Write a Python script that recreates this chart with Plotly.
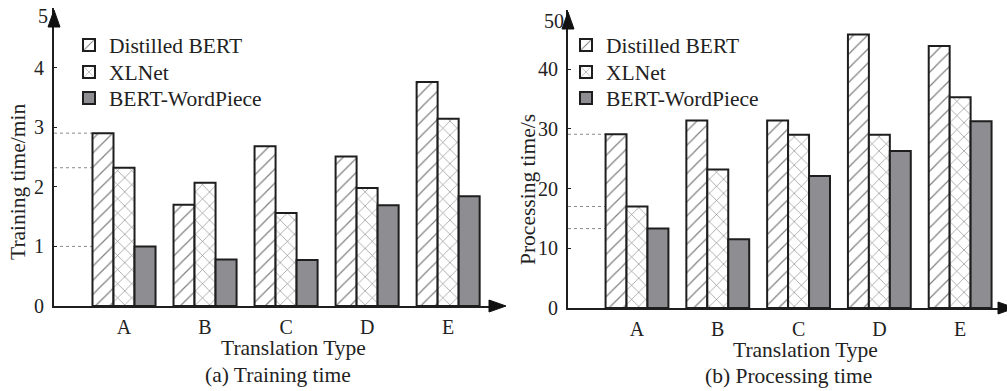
import plotly.graph_objects as go
from plotly.subplots import make_subplots

categories = ["A", "B", "C", "D", "E"]
series_names = ["Distilled BERT", "XLNet", "BERT-WordPiece"]

train_distilled = [2.9, 1.7, 2.68, 2.51, 3.76]
train_xlnet = [2.32, 2.07, 1.56, 1.98, 3.14]
train_wordpiece = [1.0, 0.78, 0.77, 1.69, 1.84]

proc_distilled = [29.1, 31.4, 31.4, 45.8, 43.9]
proc_xlnet = [17.0, 23.2, 29.0, 29.0, 35.3]
proc_wordpiece = [13.3, 11.5, 22.1, 26.3, 31.3]

train_ticks = [0, 1, 2, 3, 4, 5]
proc_ticks = [0, 10, 20, 30, 40, 50]

W, H = 1007, 391
FONT = "Liberation Serif, Times New Roman, serif"
EDGE = "#1e1e1e"
GRAY = "#8e8e92"
HATCH = "#808080"
TXT = "#222"


def px(x):
    return x / W


def py(y):
    return 1 - y / H


styles = [
    dict(pattern=dict(shape="/", fgcolor=HATCH, bgcolor="white", size=10, solidity=0.12, fillmode="replace")),
    dict(pattern=dict(shape="x", fgcolor=HATCH, bgcolor="white", size=10, solidity=0.12, fillmode="replace")),
    dict(color=GRAY),
]

fig = make_subplots(rows=1, cols=2)
x_idx = list(range(len(categories)))
bargap = 0.222

# one legend per entry so rows can sit exactly where the reference has them
legend_rows = [45, 72, 98]
legend_ids = [["legend", "legend2", "legend3"], ["legend4", "legend5", "legend6"]]
legend_x = [69, 566]

for c, (col, data) in enumerate([(1, [train_distilled, train_xlnet, train_wordpiece]),
                                  (2, [proc_distilled, proc_xlnet, proc_wordpiece])]):
    for i, (name, vals) in enumerate(zip(series_names, data)):
        st = styles[i]
        marker = dict(line=dict(color=EDGE, width=2))
        if "pattern" in st:
            marker["color"] = "white"
            marker["pattern"] = st["pattern"]
        else:
            marker["color"] = st["color"]
        fig.add_trace(go.Bar(x=x_idx, y=vals, name=name, marker=marker,
                             legend=legend_ids[c][i], showlegend=True), row=1, col=col)

fig.update_layout(barmode="group", bargap=bargap, bargroupgap=0)

tickfont = dict(family=FONT, size=20, color=TXT)
xcommon = dict(tickmode="array", tickvals=x_idx, ticktext=categories,
               showline=True, linecolor=EDGE, linewidth=2, ticks="",
               showgrid=False, zeroline=False, ticklabelstandoff=2,
               automargin=False, tickfont=tickfont)
ycommon = dict(showline=True, linecolor=EDGE, linewidth=2, ticks="inside", ticklen=3,
               tickcolor=EDGE, showgrid=False, zeroline=False, ticklabelstandoff=4,
               automargin=False, tickfont=tickfont)

fig.update_layout(
    xaxis=dict(domain=[px(54), px(500)], range=[-0.864, 4.64], **xcommon),
    yaxis=dict(domain=[py(306), py(8)], range=[0, 5], tickvals=train_ticks[:-1], **ycommon),
    xaxis2=dict(domain=[px(568), 1.0], range=[-0.854, 4.58], **xcommon),
    yaxis2=dict(domain=[py(308), py(9.5)], range=[0, 50], tickvals=proc_ticks[:-1], **ycommon),
)

# top tick labels (sitting slightly below the arrow tip, as in the reference)
fig.add_annotation(xref="paper", yref="y", x=px(50), y=train_ticks[-1], yshift=-8,
                   text=str(train_ticks[-1]), showarrow=False, font=tickfont,
                   xanchor="right", yanchor="middle")
fig.add_annotation(xref="paper", yref="y2", x=px(566), y=proc_ticks[-1], yshift=-11,
                   text=str(proc_ticks[-1]), showarrow=False, font=tickfont,
                   xanchor="right", yanchor="middle")

# dotted reference lines from the y-axis to the left edge of each bar in group A
bw = (1 - bargap) / 3
for xref, yref, xstart, vals in [("x", "y", -0.864, [train_distilled[0], train_xlnet[0], train_wordpiece[0]]),
                                 ("x2", "y2", -0.854, [proc_distilled[0], proc_xlnet[0], proc_wordpiece[0]])]:
    for i, v in enumerate(vals):
        left_edge = x_idx[0] - 1.5 * bw + i * bw
        fig.add_shape(type="line", xref=xref, yref=yref, x0=xstart, x1=left_edge, y0=v, y1=v,
                      line=dict(color="#8a8a8a", width=1, dash="dot"), layer="below")


def tri(tip, base1, base2):
    return "M {} {} L {} {} L {} {} Z".format(px(tip[0]), py(tip[1]), px(base1[0]), py(base1[1]),
                                             px(base2[0]), py(base2[1]))


for path in [tri((54, 10), (48, 27), (60, 27)),
             tri((506, 306), (489, 300), (489, 312)),
             tri((568, 12), (562, 29), (574, 29)),
             tri((1015, 308), (998, 302), (998, 314))]:
    fig.add_shape(type="path", xref="paper", yref="paper", path=path,
                  fillcolor="#111", line=dict(color="#111", width=1))

txt = dict(family=FONT, size=21.5, color=TXT)
annots = [
    dict(x=px(293), y=py(348), text="Translation Type"),
    dict(x=px(278), y=py(375), text="(a) Training time"),
    dict(x=px(805), y=py(350), text="Translation Type"),
    dict(x=px(788), y=py(376), text="(b) Processing time"),
    dict(x=px(18), y=py(182), text="Training time/min", textangle=-90),
    dict(x=px(528), y=py(190), text="Processing time/s", textangle=-90),
]
for a in annots:
    fig.add_annotation(xref="paper", yref="paper", showarrow=False, font=txt,
                       xanchor="center", yanchor="middle", **a)

legend_common = dict(font=dict(family=FONT, size=21.5, color=TXT), bgcolor="rgba(0,0,0,0)",
                     itemwidth=30, tracegroupgap=0, xanchor="left", yanchor="middle",
                     itemclick=False, itemdoubleclick=False)
legends = {}
for c in range(2):
    for i in range(3):
        legends[legend_ids[c][i]] = dict(x=px(legend_x[c]), y=py(legend_rows[i]), **legend_common)
fig.update_layout(**legends)

fig.update_layout(
    width=W, height=H, margin=dict(l=0, r=0, t=0, b=0),
    paper_bgcolor="white", plot_bgcolor="rgba(0,0,0,0)",
    font=dict(family=FONT),
)

fig.write_html("out.html", config={"displayModeBar": False},
               post_script="document.body.style.margin='0';")
